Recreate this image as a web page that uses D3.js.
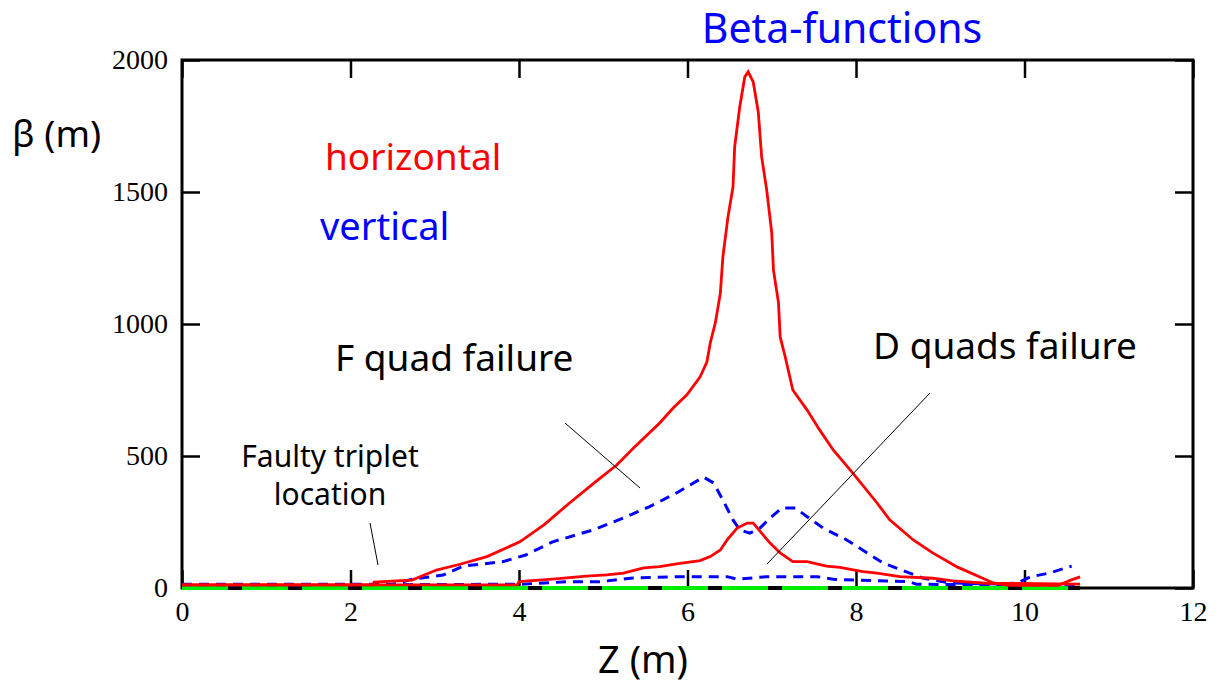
<!DOCTYPE html>
<html>
<head>
<meta charset="utf-8">
<script src="https://cdn.jsdelivr.net/npm/d3@7"></script>
<style>
  body { margin: 0; background: #fff; }
  .ann { font-family: "Comic Sans MS", "Noto Sans", sans-serif; }
</style>
</head>
<body>
<div id="chart"></div>
<script>
// horizontal beta, F quad failure
var hF_z = [0, 2.27, 2.28, 2.73, 3.02, 3.3, 3.62, 4.01, 4.3, 4.6, 4.9, 5.16, 5.36, 5.67, 5.83, 5.99, 6.15, 6.23, 6.27, 6.33, 6.39, 6.42, 6.48, 6.54, 6.56, 6.62, 6.68, 6.72, 6.78, 6.84, 6.88, 6.94, 7.0, 7.02, 7.08, 7.1, 7.16, 7.25, 7.42, 7.57, 7.73, 7.96, 8.25, 8.4, 8.68, 8.91, 9.2, 9.47, 9.63, 9.79, 10.0, 10.4, 10.55, 10.66];
var hF_b = [12, 12, 22, 30, 68, 90, 119, 175, 240, 322, 400, 466, 530, 625, 682, 731, 800, 856, 928, 1004, 1117, 1254, 1405, 1519, 1671, 1822, 1936, 1955, 1917, 1803, 1633, 1508, 1345, 1205, 1080, 951, 875, 750, 674, 598, 523, 436, 322, 258, 182, 133, 80, 42, 19, 11, 10, 10, 30, 42];
// horizontal beta, D quads failure
var hD_z = [0, 3.98, 4.0, 4.4, 4.8, 5.04, 5.24, 5.48, 5.67, 5.87, 6.15, 6.27, 6.39, 6.47, 6.59, 6.71, 6.78, 6.88, 6.98, 7.1, 7.25, 7.42, 7.65, 7.81, 8.08, 8.25, 8.52, 8.91, 9.15, 9.54, 10.66];
var hD_b = [12, 12, 24, 34, 45, 50, 56, 76, 81, 91, 104, 119, 144, 182, 227, 246, 246, 208, 170, 133, 100, 100, 83, 78, 62, 56, 43, 37, 27, 18, 15];
// vertical beta, F quad failure
var vF_z = [0, 2.5, 2.74, 3.1, 3.34, 3.81, 4.08, 4.4, 4.88, 5.24, 5.55, 5.87, 6.19, 6.31, 6.42, 6.54, 6.62, 6.74, 6.86, 6.98, 7.12, 7.28, 7.42, 7.61, 7.89, 8.32, 8.63, 8.79, 9.11, 9.7, 9.91, 10.07, 10.3, 10.56];
var vF_b = [14, 14, 34, 49, 83, 100, 125, 175, 220, 265, 308, 360, 420, 398, 333, 258, 220, 208, 227, 265, 303, 303, 270, 227, 182, 95, 57, 38, 19, 15, 19, 42, 57, 83];
// vertical beta, D quads failure
var vD_z = [0, 4.0, 4.6, 4.96, 5.32, 5.87, 6.47, 6.59, 6.94, 7.54, 7.73, 8.63, 8.72, 10.6];
var vD_b = [12, 14, 24, 24, 37, 43, 43, 33, 43, 43, 33, 24, 14, 12];
// nominal (green) line
var nom_z = [0, 10.66];
var nom_b = [0, 0];

var xTicks = [0, 2, 4, 6, 8, 10, 12];
var yTicks = [0, 500, 1000, 1500, 2000];

var W = 1223, H = 686;
var m = {left: 182, right: 1193, top: 60, bottom: 588};

var svg = d3.select("#chart").append("svg")
    .attr("width", W)
    .attr("height", H);

var x = d3.scaleLinear().domain([0, 12]).range([m.left, m.right]);
var y = d3.scaleLinear().domain([0, 2000]).range([m.bottom, m.top]);

function pts(zs, bs) { return zs.map(function(z, i) { return [z, bs[i]]; }); }

var line = d3.line()
    .x(function(d) { return x(d[0]); })
    .y(function(d) { return y(d[1]); });

// axes, ticks inward on all four sides
var tl = 18;
svg.append("g")
    .attr("transform", "translate(0," + m.bottom + ")")
    .call(d3.axisBottom(x).tickValues(xTicks).tickSize(-tl).tickPadding(13).tickFormat(d3.format("d")));
svg.append("g")
    .attr("transform", "translate(0," + m.top + ")")
    .call(d3.axisTop(x).tickValues(xTicks).tickSize(-tl).tickFormat(""));
svg.append("g")
    .attr("transform", "translate(" + m.left + ",0)")
    .call(d3.axisLeft(y).tickValues(yTicks).tickSize(-tl).tickPadding(14).tickFormat(d3.format("d")));
svg.append("g")
    .attr("transform", "translate(" + m.right + ",0)")
    .call(d3.axisRight(y).tickValues(yTicks).tickSize(-tl).tickFormat(""));

svg.selectAll(".domain").remove();
svg.selectAll(".tick line").attr("stroke", "#000").attr("stroke-width", 2.5);
svg.selectAll(".tick text")
    .attr("font-family", "'Liberation Serif', 'Times New Roman', serif")
    .attr("font-size", 28)
    .attr("fill", "#000");

svg.append("rect")
    .attr("x", m.left).attr("y", m.top)
    .attr("width", m.right - m.left).attr("height", m.bottom - m.top)
    .attr("fill", "none").attr("stroke", "#000").attr("stroke-width", 3);

// nominal line: black with green dashes over it
svg.append("path").datum(pts(nom_z, nom_b))
    .attr("d", line).attr("fill", "none").attr("stroke", "#000").attr("stroke-width", 4);
svg.append("path").datum(pts(nom_z, nom_b))
    .attr("d", line).attr("fill", "none").attr("stroke", "#00ee00").attr("stroke-width", 4)
    .attr("stroke-dasharray", "46,14");

// vertical (blue dashed)
[[vD_z, vD_b], [vF_z, vF_b]].forEach(function(s) {
  svg.append("path").datum(pts(s[0], s[1]))
      .attr("d", line).attr("fill", "none")
      .attr("stroke", "#0000ff").attr("stroke-width", 3)
      .attr("stroke-dasharray", "10,7");
});

// horizontal (red solid)
[[hD_z, hD_b], [hF_z, hF_b]].forEach(function(s) {
  svg.append("path").datum(pts(s[0], s[1]))
      .attr("d", line).attr("fill", "none")
      .attr("stroke", "#ff0000").attr("stroke-width", 2.8);
});

// pointer lines
var ptrs = [
  [565, 423, 640, 488],
  [930, 393, 767, 564],
  [370, 523, 378, 565]
];
svg.selectAll(".ptr").data(ptrs).enter().append("line")
    .attr("x1", function(d) { return d[0]; }).attr("y1", function(d) { return d[1]; })
    .attr("x2", function(d) { return d[2]; }).attr("y2", function(d) { return d[3]; })
    .attr("stroke", "#000").attr("stroke-width", 1);

// texts
function txt(s, tx, ty, size, color, anchor) {
  svg.append("text").attr("class", "ann")
      .attr("x", tx).attr("y", ty)
      .attr("font-size", size + "px")
      .attr("fill", color)
      .attr("text-anchor", anchor || "start")
      .text(s);
}
txt("Beta-functions", 842, 43, 41, "#0000ff", "middle");
txt("β (m)", 12, 147, 37, "#000");
txt("horizontal", 325, 170, 37, "#ff0000");
txt("vertical", 320, 240, 38, "#0000ff");
txt("F quad failure", 335, 371, 37, "#000");
txt("D quads failure", 873, 359, 37, "#000");
txt("Faulty triplet", 330, 467, 30, "#000", "middle");
txt("location", 330, 505, 30, "#000", "middle");
txt("Z (m)", 643, 673, 38, "#000", "middle");
</script>
</body>
</html>
